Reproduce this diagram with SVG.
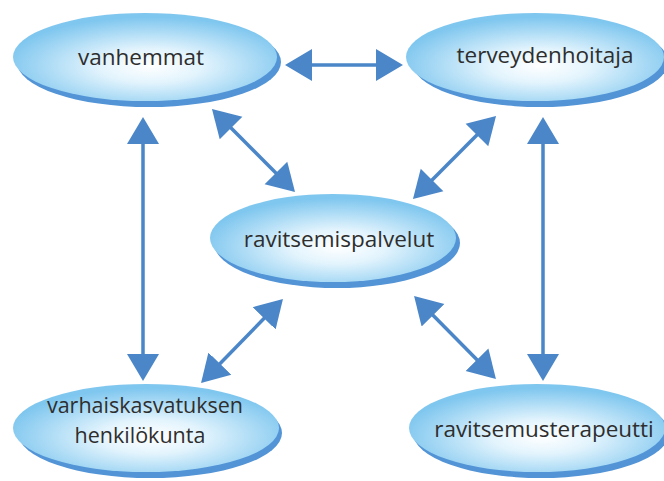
<svg xmlns="http://www.w3.org/2000/svg" width="664" height="481" viewBox="0 0 664 481">
<defs>
<radialGradient id="g" cx="0.52" cy="0.6" r="0.55">
<stop offset="0" stop-color="#ffffff"/>
<stop offset="0.35" stop-color="#e3f4fd"/>
<stop offset="1" stop-color="#80c7ef"/>
</radialGradient>
<marker id="ah" markerUnits="userSpaceOnUse" markerWidth="28" markerHeight="34" viewBox="0 0 28 34" refX="7" refY="17" orient="auto-start-reverse">
<path d="M0,1 L27,17 L0,33 z" fill="#4a86c8"/>
</marker>
<style>
.sh{fill:#5294d6}
.el{fill:url(#g)}
.t{font-family:"Open Sans","Noto Sans",sans-serif;font-size:22.5px;fill:#2e2e2e;text-anchor:middle}
.t2{font-size:21.5px}
.c line{stroke:#4a86c8;stroke-width:3.5;marker-start:url(#ah);marker-end:url(#ah)}
</style>
</defs>
<g class="c" id="connectors">
<line x1="305" y1="65" x2="383" y2="65"/>
<line x1="143" y1="137" x2="143" y2="361"/>
<line x1="543" y1="137" x2="543" y2="361"/>
<line x1="226.1" y1="123.1" x2="280.9" y2="177.9"/>
<line x1="481.9" y1="130.1" x2="427.1" y2="184.9"/>
<line x1="269" y1="313.3" x2="215" y2="368.7"/>
<line x1="428.1" y1="310.2" x2="481.9" y2="364.8"/>
</g>
<g id="vanhemmat">
<ellipse class="sh" cx="149" cy="62" rx="132" ry="45"/>
<ellipse class="el" cx="145" cy="57" rx="132" ry="44"/>
<text class="t" x="141" y="65">vanhemmat</text>
</g>
<g id="terveydenhoitaja">
<ellipse class="sh" cx="540" cy="62" rx="128" ry="45"/>
<ellipse class="el" cx="535" cy="57" rx="129" ry="44"/>
<text class="t" x="545" y="63">terveydenhoitaja</text>
</g>
<g id="ravitsemispalvelut">
<ellipse class="sh" cx="337" cy="243" rx="123" ry="45"/>
<ellipse class="el" cx="333" cy="238" rx="123" ry="44"/>
<text class="t" x="339" y="247">ravitsemispalvelut</text>
</g>
<g id="varhaiskasvatuksen">
<ellipse class="sh" cx="150" cy="433" rx="132" ry="45"/>
<ellipse class="el" cx="146" cy="428" rx="133" ry="44"/>
<text class="t t2" x="145" y="413">varhaiskasvatuksen</text>
<text class="t t2" x="140" y="443">henkilökunta</text>
</g>
<g id="ravitsemusterapeutti">
<ellipse class="sh" cx="541" cy="433" rx="128" ry="45"/>
<ellipse class="el" cx="537" cy="428" rx="128" ry="44"/>
<text class="t" x="544" y="437">ravitsemusterapeutti</text>
</g>
</svg>
